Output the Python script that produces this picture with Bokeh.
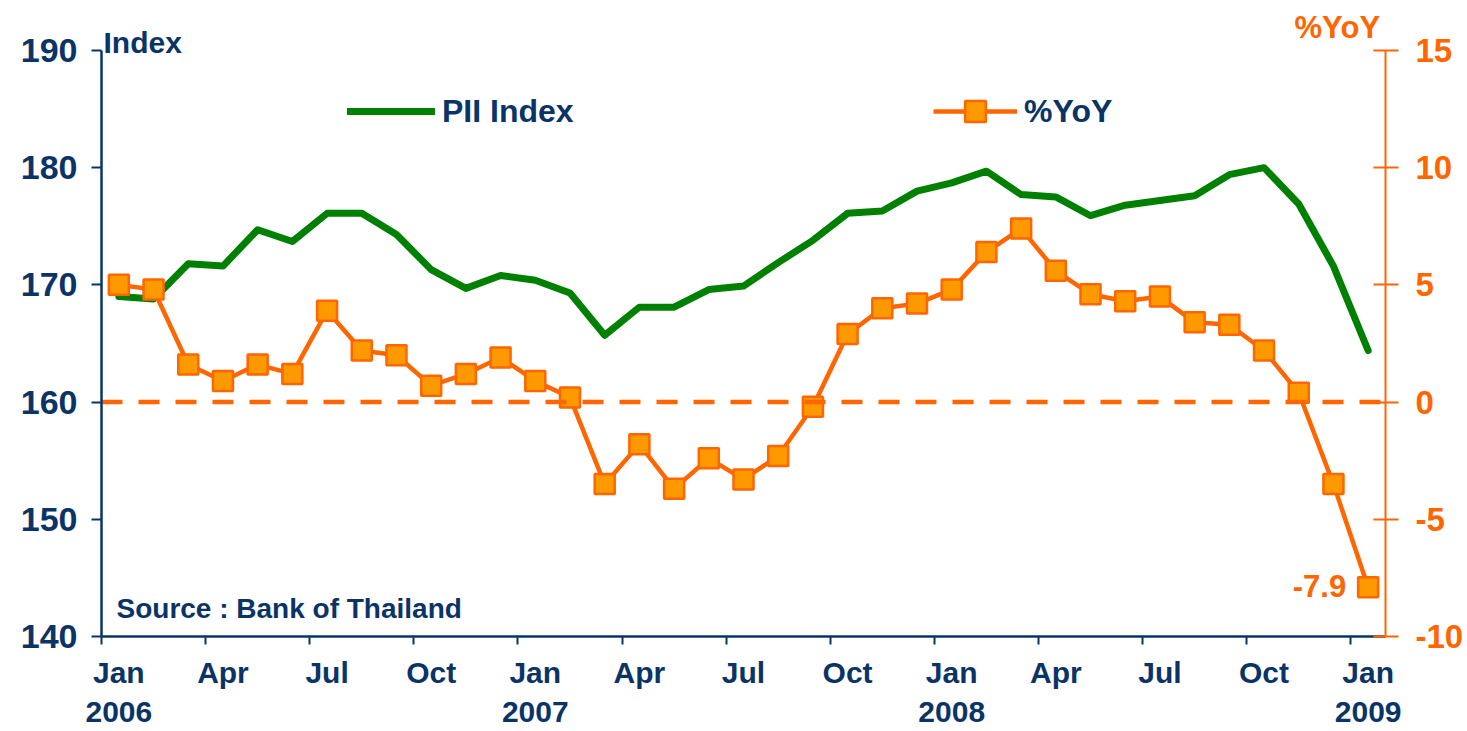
from bokeh.plotting import figure
from bokeh.models import (Range1d, LinearAxis, FixedTicker, Label,
                          Legend, LegendItem)
from bokeh.embed import file_html
from bokeh.resources import INLINE
from bokeh.core.properties import value

# ---------------- data ----------------
months = [
    "Jan 2006", "Feb 2006", "Mar 2006", "Apr 2006", "May 2006", "Jun 2006",
    "Jul 2006", "Aug 2006", "Sep 2006", "Oct 2006", "Nov 2006", "Dec 2006",
    "Jan 2007", "Feb 2007", "Mar 2007", "Apr 2007", "May 2007", "Jun 2007",
    "Jul 2007", "Aug 2007", "Sep 2007", "Oct 2007", "Nov 2007", "Dec 2007",
    "Jan 2008", "Feb 2008", "Mar 2008", "Apr 2008", "May 2008", "Jun 2008",
    "Jul 2008", "Aug 2008", "Sep 2008", "Oct 2008", "Nov 2008", "Dec 2008",
    "Jan 2009",
]
pii_index = [
    169.0, 168.8, 171.8, 171.6, 174.7, 173.7, 176.1, 176.1, 174.3, 171.3, 169.7, 170.8,
    170.4, 169.3, 165.7, 168.1, 168.1, 169.6, 169.9, 171.9, 173.8, 176.1, 176.3, 178.0,
    178.7, 179.7, 177.7, 177.5, 175.9, 176.8, 177.2, 177.6, 179.4, 180.0, 176.9, 171.6,
    164.4,
]
yoy = [
    5.0, 4.8, 1.6, 0.9, 1.6, 1.2, 3.9, 2.2, 2.0, 0.7, 1.2, 1.9,
    0.9, 0.2, -3.5, -1.8, -3.7, -2.4, -3.3, -2.3, -0.2, 2.9, 4.0, 4.2,
    4.8, 6.4, 7.4, 5.6, 4.6, 4.3, 4.5, 3.4, 3.3, 2.2, 0.4, -3.5,
    -7.9,
]
label_months = ["Jan", "Apr", "Jul", "Oct"]
left_ticks = [140, 150, 160, 170, 180, 190]
right_ticks = [-10, -5, 0, 5, 10, 15]

# ---------------- layout / styling ----------------
NAVY = "#0B3466"
ORANGE = "#FF6600"
FILL = "#FF9900"
GREEN = "#008000"
FONT = "Liberation Sans"

W, H = 1467, 731
FRAME_L, FRAME_R, FRAME_T, FRAME_B = 101, 1385, 10, 637
AXIS_TOP = 50         # pixel position of the top tick (190 / 15)

x = list(range(len(months)))
x_lo, x_hi = x[0] - 0.5, x[-1] + 0.5

def extended_top(lo, hi):
    per = (FRAME_B - AXIS_TOP) / (hi - lo)
    return hi + (AXIS_TOP - FRAME_T) / per

tick_pos = [i for i, m in enumerate(months) if m.split()[0] in label_months]
overrides = {}
for i in tick_pos:
    mon, yr = months[i].split()
    overrides[i] = f"{mon}\n{yr}" if mon == "Jan" else mon

p = figure(width=W, height=H,
           x_range=Range1d(x_lo, x_hi),
           y_range=Range1d(left_ticks[0], extended_top(left_ticks[0], left_ticks[-1])),
           output_backend="svg", toolbar_location=None,
           min_border_left=FRAME_L, min_border_right=W - FRAME_R,
           min_border_top=FRAME_T, min_border_bottom=H - FRAME_B)
p.extra_y_ranges = {"yoy": Range1d(right_ticks[0],
                                   extended_top(right_ticks[0], right_ticks[-1]))}
p.outline_line_color = None
p.xgrid.visible = False
p.ygrid.visible = False
p.background_fill_color = "white"

# x axis
xa = p.xaxis[0]
xa.ticker = FixedTicker(ticks=tick_pos, minor_ticks=[t - 0.5 for t in tick_pos])
xa.bounds = (x_lo, x_hi)
xa.major_label_overrides = overrides
xa.major_tick_line_color = None
xa.major_tick_out = 0
xa.major_tick_in = 0
xa.minor_tick_line_color = NAVY
xa.minor_tick_line_width = 2
xa.minor_tick_out = 8
xa.minor_tick_in = 0
xa.axis_line_color = NAVY
xa.axis_line_width = 2.5
xa.major_label_standoff = 11
xa.major_label_text_font = FONT
xa.major_label_text_font_style = "bold"
xa.major_label_text_font_size = "30px"
xa.major_label_text_color = NAVY
xa.major_label_text_line_height = 1.2

# left axis
ya = p.yaxis[0]
ya.ticker = FixedTicker(ticks=left_ticks)
ya.bounds = (left_ticks[0], left_ticks[-1])
ya.axis_line_color = NAVY
ya.axis_line_width = 2.5
ya.major_tick_line_color = NAVY
ya.major_tick_line_width = 2
ya.major_tick_out = 10
ya.major_tick_in = 0
ya.minor_tick_line_color = None
ya.major_label_standoff = 14
ya.major_label_text_font = FONT
ya.major_label_text_font_style = "bold"
ya.major_label_text_font_size = "34px"
ya.major_label_text_color = NAVY

# right axis
ra = LinearAxis(y_range_name="yoy", ticker=FixedTicker(ticks=right_ticks))
ra.bounds = (right_ticks[0], right_ticks[-1])
ra.major_label_overrides = {t: str(t) for t in right_ticks}
ra.axis_line_color = ORANGE
ra.axis_line_width = 2
ra.major_tick_line_color = ORANGE
ra.major_tick_line_width = 2
ra.major_tick_out = 13
ra.major_tick_in = 12
ra.minor_tick_line_color = None
ra.major_label_standoff = 17
ra.major_label_text_font = FONT
ra.major_label_text_font_style = "bold"
ra.major_label_text_font_size = "33px"
ra.major_label_text_color = ORANGE
p.add_layout(ra, "right")

# glyphs
g_line = p.line(x, pii_index, line_color=GREEN, line_width=7,
                line_join="round", line_cap="round")
o_line = p.line(x, yoy, y_range_name="yoy", line_color=ORANGE, line_width=4.5)
o_pts = p.scatter(x, yoy, y_range_name="yoy", marker="square", size=20,
                  fill_color=FILL, line_color=ORANGE, line_width=2.5)

# zero reference line on the %YoY scale
p.segment(x0=[x_lo], x1=[x_hi], y0=[0], y1=[0], y_range_name="yoy",
          line_color=ORANGE, line_width=4.5, line_dash="21 16")

p.text(x=[x[-1]], y=[yoy[-1]], text=[f"{yoy[-1]}"], y_range_name="yoy",
       text_align="right", text_baseline="middle", x_offset=-22, y_offset=-1,
       text_font=value(FONT), text_font_style="bold", text_font_size="31px",
       text_color=ORANGE)

# legends
def make_legend(label, renderers, loc, gw, gh):
    return Legend(items=[LegendItem(label=label, renderers=renderers)],
                  location=loc, orientation="horizontal",
                  border_line_color=None, background_fill_alpha=0,
                  padding=0, margin=0, spacing=0,
                  glyph_width=gw, glyph_height=gh, label_height=30,
                  label_standoff=7,
                  label_text_font=FONT, label_text_font_style="bold",
                  label_text_font_size="32px", label_text_color=NAVY)

p.add_layout(make_legend("PII Index", [g_line], (347 - FRAME_L, 505), 88, 40))
p.add_layout(make_legend("%YoY", [o_line, o_pts], (933 - FRAME_L, 499), 84, 52))

# text annotations (y measured from frame bottom; +10 compensates text box)
p.add_layout(Label(x=2, y=FRAME_B - 53 + 10, x_units="screen", y_units="screen",
                   text="Index", text_font=FONT, text_font_style="bold",
                   text_font_size="30px", text_color=NAVY,
                   text_baseline="alphabetic"))
p.add_layout(Label(x=1294 - FRAME_L, y=FRAME_B - 39 + 11, x_units="screen", y_units="screen",
                   text="%YoY", text_font=FONT, text_font_style="bold",
                   text_font_size="31px", text_color=ORANGE,
                   text_baseline="alphabetic"))
p.add_layout(Label(x=116 - FRAME_L, y=FRAME_B - 619 + 10, x_units="screen", y_units="screen",
                   text="Source : Bank of Thailand", text_font=FONT,
                   text_font_style="bold", text_font_size="28px",
                   text_color=NAVY, text_baseline="alphabetic"))

open("out.html", "w").write(file_html(p, INLINE))
